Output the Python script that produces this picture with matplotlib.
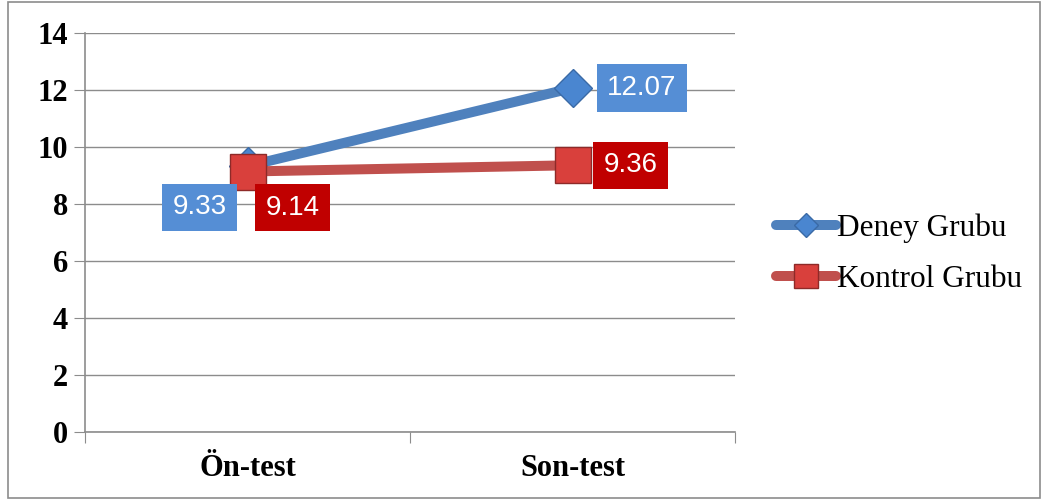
import matplotlib
matplotlib.use("Agg")
import matplotlib.pyplot as plt
from matplotlib.patches import Rectangle

categories = ["Ön-test", "Son-test"]
deney = [9.33, 12.07]
kontrol = [9.14, 9.36]
series_names = ["Deney Grubu", "Kontrol Grubu"]
y_ticks = [0, 2, 4, 6, 8, 10, 12, 14]

BLUE = "#4F81BD"
RED = "#C0504D"
BLUE_BOX = "#558ED5"
RED_BOX = "#C00000"
GRID = "#8c8c8c"
SERIF = "Liberation Serif"
SANS = "Liberation Sans"

fig = plt.figure(figsize=(10.45, 5.04), dpi=100)
fig.patch.set_facecolor("white")
ax = fig.add_axes([85 / 1045, 1 - 432 / 504, 650 / 1045, 399 / 504])

x = list(range(len(categories)))
ax.plot(x, deney, color=BLUE, lw=7.2, solid_capstyle="round",
        marker="D", ms=19, mfc="#4a86d0", mec="#3a6aa6", mew=1, label=series_names[0], zorder=3)
ax.plot(x, kontrol, color=RED, lw=7.2, solid_capstyle="round",
        marker="s", ms=26, mfc="#d9403c", mec="#8e2a28", mew=1, label=series_names[1], zorder=4)

ax.set_xlim(-0.5, 1.5)
ax.set_ylim(0, 14)
ax.set_yticks(y_ticks)
ax.set_yticklabels([str(v) for v in y_ticks], fontfamily=SERIF, fontweight="bold", fontsize=22)
ax.set_xticks([-0.5, 0.5, 1.5])
ax.set_xticklabels([])
ax.set_xticks(x, minor=True)
ax.set_xticklabels(categories, minor=True, fontfamily=SERIF, fontweight="bold", fontsize=22)
ax.tick_params(axis="x", which="minor", length=0, pad=16)
ax.tick_params(axis="x", which="major", length=8, color=GRID, direction="out")
ax.tick_params(axis="y", length=8, color=GRID, direction="out", pad=4)

ax.grid(axis="y", color=GRID, lw=1)
ax.set_axisbelow(True)
for s in ["top", "right"]:
    ax.spines[s].set_visible(False)
for s in ["left", "bottom"]:
    ax.spines[s].set_color(GRID)
    ax.spines[s].set_linewidth(1.2)

# data labels
offsets_d = [(-34.5, -29.5), (50, 0)]
offsets_k = [(32.4, -26), (42, 0)]
for xi, v, off in zip(x, deney, offsets_d):
    ax.annotate(f"{v:.2f}", (xi, v), xytext=off, textcoords="offset points",
                ha="center", va="center", color="white", fontsize=20, fontfamily=SANS,
                bbox=dict(boxstyle="square,pad=0.38", fc=BLUE_BOX, ec="none"), zorder=6)
for xi, v, off in zip(x, kontrol, offsets_k):
    ax.annotate(f"{v:.2f}", (xi, v), xytext=off, textcoords="offset points",
                ha="center", va="center", color="white", fontsize=20, fontfamily=SANS,
                bbox=dict(boxstyle="square,pad=0.38", fc=RED_BOX, ec="none"), zorder=6)

leg = ax.legend(loc="center left", bbox_to_anchor=(1.02, 0.447), frameon=False,
                prop=dict(family=SERIF, size=22.5), handlelength=1.9, handletextpad=0.05,
                labelspacing=0.7, markerscale=0.65)

fig.patches.append(Rectangle((8 / 1045, 1 - 498 / 504), 1032 / 1045, 496 / 504,
                             transform=fig.transFigure, fill=False, ec="#8c8c8c", lw=1.2))

fig.savefig("out.png", dpi=100, facecolor="white")
